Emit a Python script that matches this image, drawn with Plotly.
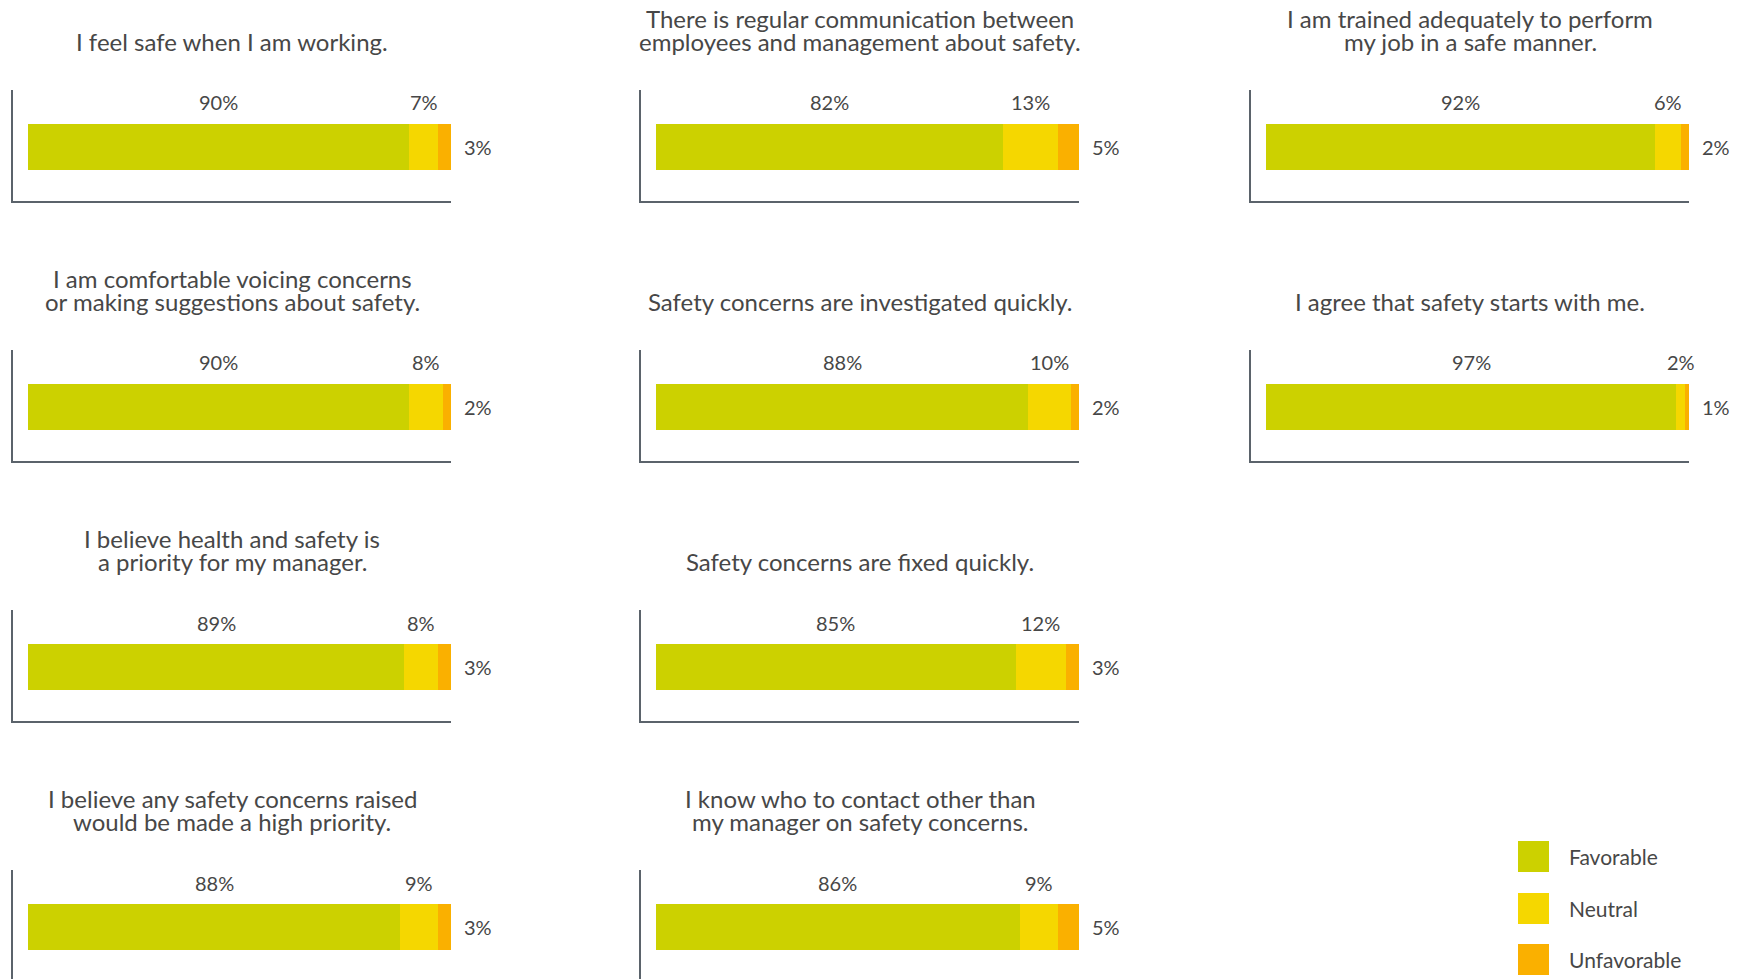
import plotly.graph_objects as go

W, H = 1753, 979

# Survey statements (in reading order: rows top to bottom, left to right)
questions = [
    ["I feel safe when I am working."],
    ["There is regular communication between", "employees and management about safety."],
    ["I am trained adequately to perform", "my job in a safe manner."],
    ["I am comfortable voicing concerns", "or making suggestions about safety."],
    ["Safety concerns are investigated quickly."],
    ["I agree that safety starts with me."],
    ["I believe health and safety is", "a priority for my manager."],
    ["Safety concerns are fixed quickly."],
    ["I believe any safety concerns raised", "would be made a high priority."],
    ["I know who to contact other than", "my manager on safety concerns."],
]
grid_pos = [(0, 0), (0, 1), (0, 2), (1, 0), (1, 1), (1, 2), (2, 0), (2, 1), (3, 0), (3, 1)]

favorable = [90, 82, 92, 90, 88, 97, 89, 85, 88, 86]
neutral = [7, 13, 6, 8, 10, 2, 8, 12, 9, 9]
unfavorable = [3, 5, 2, 2, 2, 1, 3, 3, 3, 5]

series_names = ["Favorable", "Neutral", "Unfavorable"]
series_colors = ["#CCD100", "#F5D700", "#FAB000"]

FONT = "Lato, 'Open Sans', sans-serif"
TEXT_COLOR = "#474747"
AXIS_COLOR = "#5B636B"
WEIGHT = 400

# panel geometry in pixels
col_left = [13, 641, 1251]
panel_w = 438
bar_offset = 15          # gap between the vertical axis line and the bar start
bar_len = 423
row_top0, row_step, panel_h = 90, 260, 111
bar_center_off = 57      # from panel top to bar centre
px_per_unit = 54.1
bar_px = 46


def px(x):
    return x / W


def py(y):
    return 1 - y / H


fig = go.Figure()
annotations = []
shapes = []
layout_axes = {}

for k, (r, c) in enumerate(grid_pos):
    sfx = "" if k == 0 else str(k + 1)
    xa, ya = "x" + sfx, "y" + sfx
    left = col_left[c]
    right = left + panel_w
    top = row_top0 + row_step * r
    bottom = top + panel_h
    clipped = bottom > H
    bottom_vis = min(bottom, H)
    yc = top + bar_center_off

    x_lo = -bar_offset / bar_len * 100
    x_hi = (right - left - bar_offset) / bar_len * 100
    y_hi = (yc - top) / px_per_unit
    y_lo = -(bottom_vis - yc) / px_per_unit

    layout_axes["xaxis" + sfx] = dict(
        domain=[px(left), px(right)], range=[x_lo, x_hi], anchor=ya,
        showline=not clipped, linecolor=AXIS_COLOR, linewidth=2,
        showgrid=False, zeroline=False, showticklabels=False, ticks="",
        fixedrange=True,
    )
    layout_axes["yaxis" + sfx] = dict(
        domain=[py(bottom_vis), py(top)], range=[y_lo, y_hi], anchor=xa,
        showline=True, linecolor=AXIS_COLOR, linewidth=2,
        showgrid=False, zeroline=False, showticklabels=False, ticks="",
        fixedrange=True,
    )

    vals = [favorable[k], neutral[k], unfavorable[k]]
    for name, color, v in zip(series_names, series_colors, vals):
        fig.add_trace(go.Bar(
            x=[v], y=[0], orientation="h", name=name,
            marker=dict(color=color, line=dict(width=0)),
            width=bar_px / px_per_unit, xaxis=xa, yaxis=ya,
            showlegend=False, hoverinfo="x+name",
        ))

    # value labels: favorable and neutral above, unfavorable to the right
    fav, neu, unf = vals
    for xv, v in [(fav / 2, fav), (fav + neu / 2, neu)]:
        annotations.append(dict(
            x=xv, y=0, xref=xa, yref=ya, text=f"{v}%", showarrow=False,
            xanchor="center", yanchor="middle", yshift=44.5,
            font=dict(family=FONT, size=20, color=TEXT_COLOR, weight=WEIGHT),
        ))
    annotations.append(dict(
        x=fav + neu + unf, y=0, xref=xa, yref=ya, text=f"{unf}%", showarrow=False,
        xanchor="left", yanchor="middle", xshift=11,
        font=dict(family=FONT, size=20, color=TEXT_COLOR, weight=WEIGHT),
    ))

    # panel title, bottom line aligned across panels
    lines = questions[k]
    baselines = [top - 63, top - 40][-len(lines):]
    for line, base in zip(lines, baselines):
        annotations.append(dict(
            x=px((left + right) / 2), y=py(base - 8.5), xref="paper", yref="paper",
            text=line, showarrow=False, xanchor="center", yanchor="middle",
            font=dict(family=FONT, size=24, color=TEXT_COLOR, weight=WEIGHT),
        ))

# legend: square swatches with labels
leg_x, leg_size, leg_tops = 1518, 31, [841, 893, 944]
for name, color, t in zip(series_names, series_colors, leg_tops):
    shapes.append(dict(
        type="rect", xref="paper", yref="paper",
        x0=px(leg_x), x1=px(leg_x + leg_size), y0=py(t + leg_size), y1=py(t),
        fillcolor=color, line=dict(width=0),
    ))
    annotations.append(dict(
        x=px(1567), y=py(t + leg_size / 2), xref="paper", yref="paper",
        text=name, showarrow=False, xanchor="left", yanchor="middle",
        font=dict(family=FONT, size=21, color=TEXT_COLOR, weight=WEIGHT),
    ))

fig.update_layout(
    width=W, height=H, margin=dict(l=0, r=0, t=0, b=0),
    paper_bgcolor="white", plot_bgcolor="white",
    barmode="stack", bargap=0,
    annotations=annotations, shapes=shapes,
    **layout_axes,
)

fig.write_html("out.html", config={"displayModeBar": False})
